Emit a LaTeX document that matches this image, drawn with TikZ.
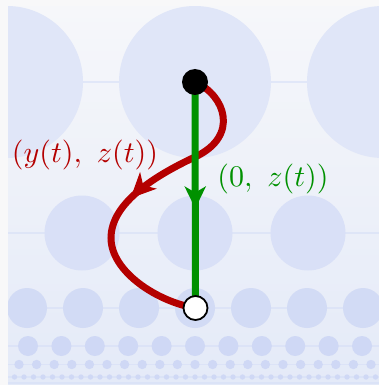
\documentclass[tikz,border=0pt]{standalone}
\usetikzlibrary{arrows.meta,decorations.markings}
\definecolor{outerbg}{RGB}{248,248,249}
\definecolor{bgtop}{RGB}{246,247,250}
\definecolor{bgmid}{RGB}{241,243,250}
\definecolor{bgbot}{RGB}{228,234,248}
\definecolor{rowa}{RGB}{224,230,248}
\definecolor{rowb}{RGB}{217,224,247}
\definecolor{rowc}{RGB}{210,219,245}
\definecolor{rowd}{RGB}{207,216,245}
\definecolor{hline}{RGB}{214,223,247}
\definecolor{pathred}{RGB}{180,0,0}
\definecolor{pathgreen}{RGB}{0,145,0}
\tikzset{
  disk/.style={fill=#1, draw=none},
  guide/.style={draw=hline, line width=1.6pt, opacity=0.6},
  curvepath/.style={draw=pathred, line width=7pt, postaction={decorate},
    decoration={markings, mark=at position 0.52 with {\arrow[pathred]{Stealth[length=25pt,width=23pt,inset=7pt]}}}},
  straightpath/.style={draw=pathgreen, line width=7pt, postaction={decorate},
    decoration={markings, mark=at position 0.56 with {\arrow[pathgreen]{Stealth[length=22pt,width=21pt,inset=6pt]}}}},
  dot/.style={circle, minimum size=26pt, inner sep=0pt},
  lbl/.style={inner sep=0pt}
}
\begin{document}
\begin{tikzpicture}[x=1pt,y=-1pt]
\useasboundingbox (0,0) rectangle (379,385);
\fill[outerbg] (0,0) rectangle (379,385);
\shade[top color=bgtop, middle color=bgmid, bottom color=bgbot] (8,7) rectangle (379,385);
\begin{scope}
\clip (8,7) rectangle (379,385);
% guide lines
\foreach \yy in {82,233,308,346,364.5,377,383}
  \draw[guide] (8,\yy) -- (379,\yy);
% row 1
\foreach \i in {-1,0,1}
  \fill[disk=rowa] ({195+188*\i},82) circle (76);
% row 2
\foreach \i in {-2,...,2}
  \fill[disk=rowb] ({195+113*\i},233) circle (37.5);
% row 3
\foreach \i in {-4,...,4}
  \fill[disk=rowc] ({195+56*\i},308) circle (20);
% row 4
\foreach \i in {-6,...,6}
  \fill[disk=rowd] ({195+33.4*\i},346) circle (10);
% row 5
\foreach \i in {-11,...,11}
  \fill[disk=rowd] ({195+17.6*\i},364.5) circle (4.7);
% row 6
\foreach \i in {-20,...,20}
  \fill[disk=rowd] ({195+9.5*\i},377) circle (2.7);
\end{scope}
% endpoints
\coordinate (pa) at (195,82);
\coordinate (pb) at (195.5,308);
\coordinate (cross) at (195,157);
\coordinate (far) at (111,238);
% red curve
\path[curvepath] (pa) .. controls (225,95) and (240,136) .. (cross)
  .. controls (150,178) and (111,205) .. (far)
  .. controls (111,272) and (158,302) .. (pb);
% green straight path
\path[straightpath] (pa) -- (pb);
% dots
\node[dot, fill=black] (top) at (pa) {};
\node[dot, fill=white, draw=black, line width=1.8pt, minimum size=24pt] (bot) at (pb) {};
% labels
\node[lbl, text=pathred] (redlbl) at (85,155) {\scalebox{3}{$(y(t),\ z(t))$}};
\node[lbl, text=pathgreen] (greenlbl) at (273,179) {\scalebox{3}{$(0,\ z(t))$}};
\end{tikzpicture}
\end{document}
